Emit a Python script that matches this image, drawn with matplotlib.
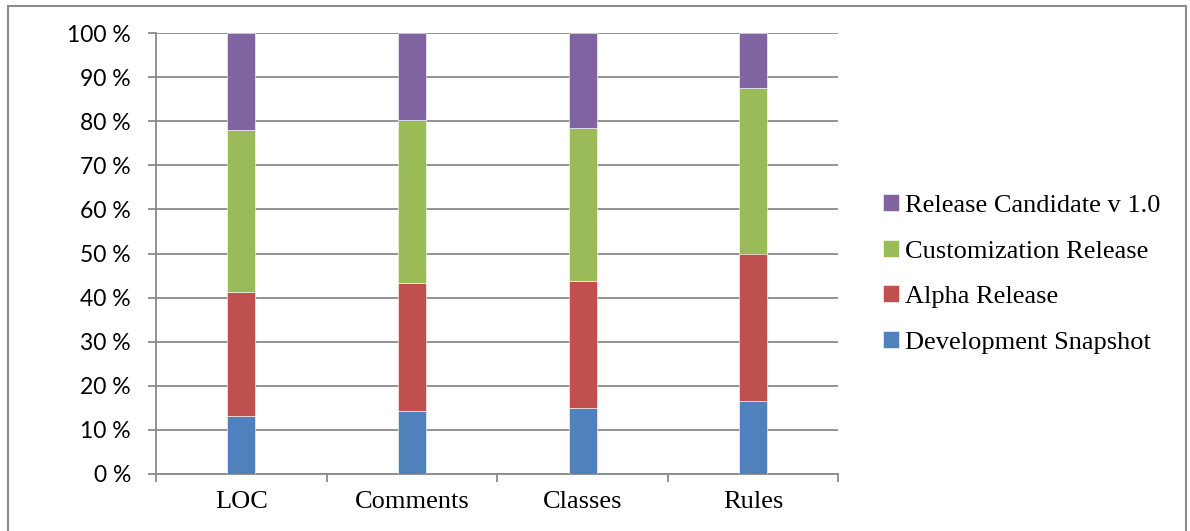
"""
Stacked 100 % bars: share of each release across metrics
"""
import matplotlib
matplotlib.use("Agg")
import matplotlib.pyplot as plt
import numpy as np
from matplotlib.patches import Rectangle


categories = ["LOC", "Comments", "Classes", "Rules"]
series_names = ["Development Snapshot", "Alpha Release",
                "Customization Release", "Release Candidate v 1.0"]
dev_snapshot = [13.1, 14.3, 15.0, 16.6]
alpha_release = [28.2, 29.0, 28.8, 33.4]
custom_release = [36.6, 36.9, 34.7, 37.5]
release_candidate = [22.1, 19.8, 21.5, 12.5]
colors = ["#4F81BD", "#C0504D", "#9BBB59", "#8064A2"]
y_ticks = [0, 10, 20, 30, 40, 50, 60, 70, 80, 90, 100]

grid_gray = "#8a8a8a"

fig = plt.figure(figsize=(11.9, 5.31), dpi=100)
ax = fig.add_axes([156 / 1190, 57 / 531, 682.5 / 1190, 441 / 531])

x = np.arange(len(categories))
bottom = np.zeros(len(categories))
handles = []
for name, vals, col in zip(series_names,
                           [dev_snapshot, alpha_release, custom_release, release_candidate],
                           colors):
    vals = np.array(vals)
    h = ax.bar(x, vals, width=0.164, bottom=bottom, color=col,
               edgecolor="white", linewidth=0.4, label=name, zorder=3)
    handles.append(h)
    bottom += vals

ax.set_xlim(-0.5, len(categories) - 0.5)
ax.set_ylim(0, 100)

# horizontal gridlines
ax.set_yticks(y_ticks)
ax.set_yticklabels([f"{t} %" for t in y_ticks], fontfamily="Lato", fontsize=16.5)
ax.yaxis.grid(True, color=grid_gray, linewidth=1.3, zorder=0)
ax.tick_params(axis="y", direction="out", length=6, width=1.3, color=grid_gray, pad=12)

# x ticks at category boundaries, labels in the middle
ax.set_xticks(np.arange(-0.5, len(categories), 1.0))
ax.set_xticklabels([])
ax.tick_params(axis="x", which="major", direction="out", length=5.5, width=1.3, color=grid_gray)
ax.set_xticks(x, minor=True)
ax.set_xticklabels(categories, minor=True, fontfamily="Liberation Serif", fontsize=19)
ax.tick_params(axis="x", which="minor", length=0, pad=12)

for side in ["top", "right"]:
    ax.spines[side].set_visible(False)
for side in ["left", "bottom"]:
    ax.spines[side].set_color(grid_gray)
    ax.spines[side].set_linewidth(1.3)

ax.legend(handles[::-1], series_names[::-1], loc="center left",
          bbox_to_anchor=(883 / 1190, 0.484), bbox_transform=fig.transFigure,
          frameon=False, prop={"family": "Liberation Serif", "size": 19},
          handlelength=0.6, handleheight=0.6, handletextpad=0.22,
          labelspacing=0.87, borderpad=0, borderaxespad=0)

# outer chart border
fig.patches.append(Rectangle((8 / 1190, -0.05), 1177.5 / 1190, (525 / 531) + 0.05,
                             transform=fig.transFigure, fill=False,
                             edgecolor="#8c8c8c", linewidth=1.5))

fig.savefig("out.png", dpi=100)
